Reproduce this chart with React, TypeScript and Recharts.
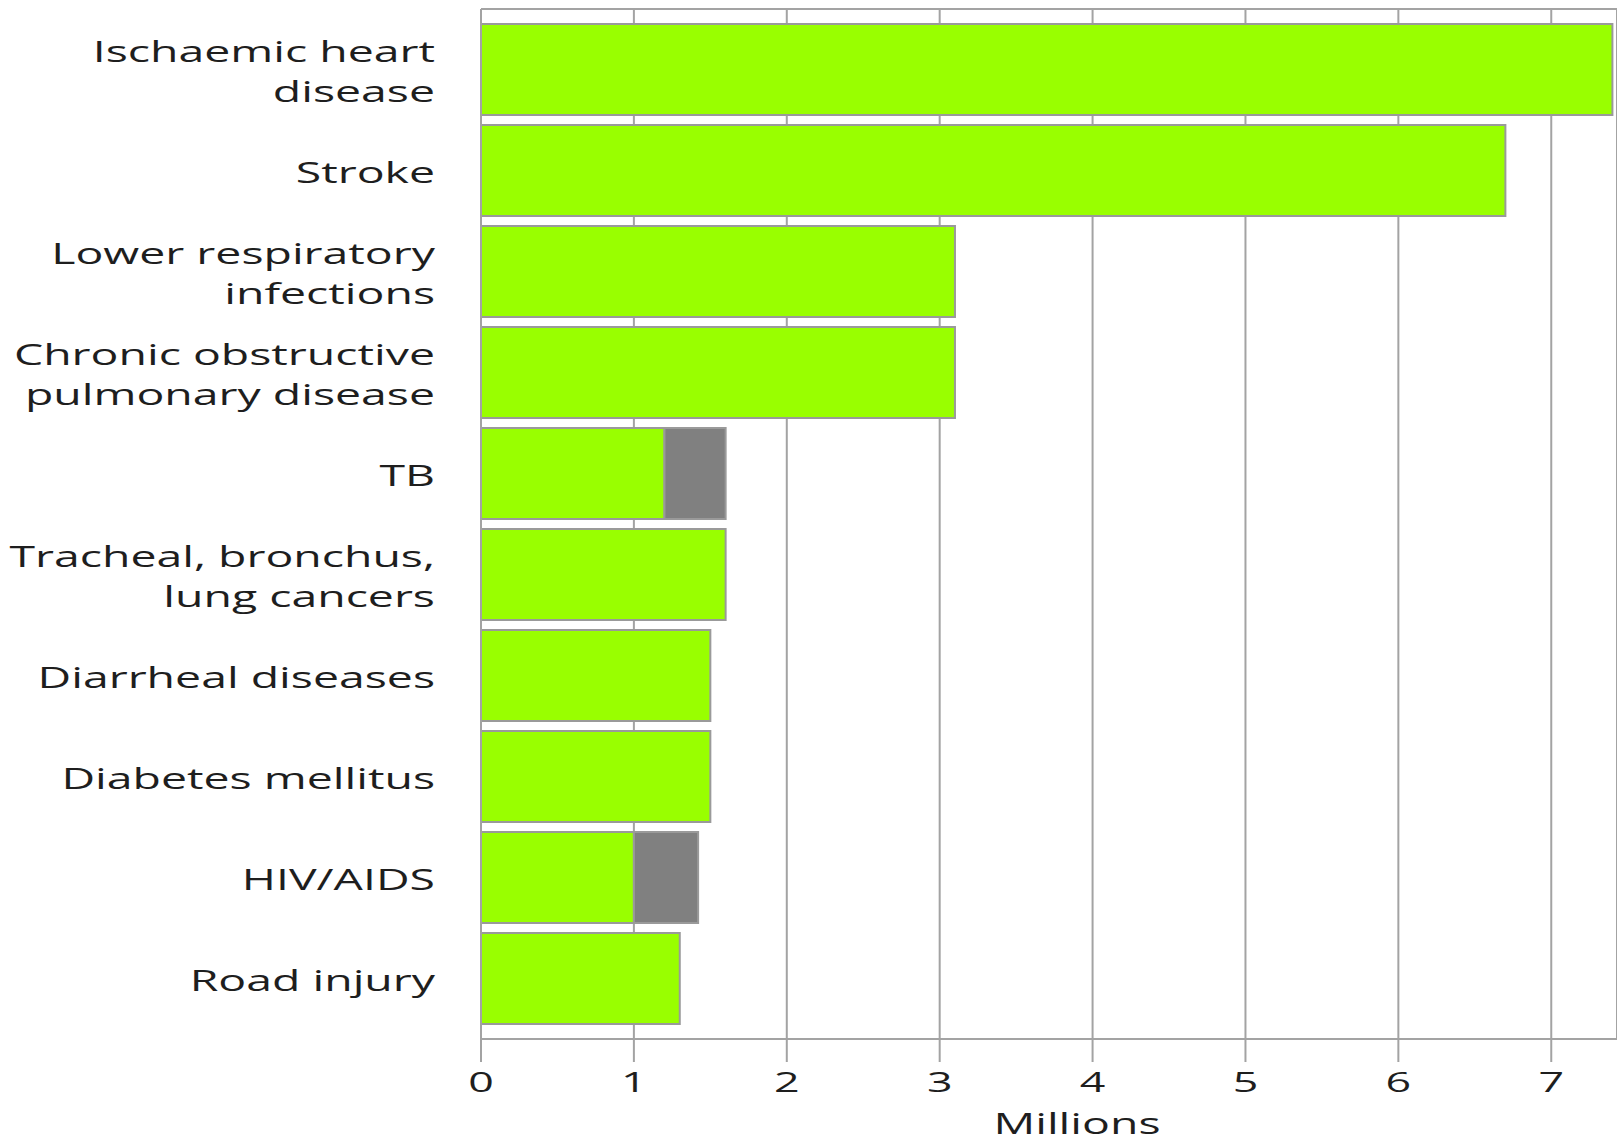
import React from 'react';
import { BarChart, Bar, XAxis, YAxis, CartesianGrid, Label } from 'recharts';

// causes of death, read top to bottom
const causes = [
  'Ischaemic heart\ndisease',
  'Stroke',
  'Lower respiratory\ninfections',
  'Chronic obstructive\npulmonary disease',
  'TB',
  'Tracheal, bronchus,\nlung cancers',
  'Diarrheal diseases',
  'Diabetes mellitus',
  'HIV/AIDS',
  'Road injury',
];
// millions of deaths (green part)
const deaths = [7.4, 6.7, 3.1, 3.1, 1.2, 1.6, 1.5, 1.5, 1.0, 1.3];
// extra grey part on TB and HIV/AIDS
const extra = [0, 0, 0, 0, 0.4, 0, 0, 0, 0.42, 0];
const xTicks = [0, 1, 2, 3, 4, 5, 6, 7];

const data = causes.map((name, i) => ({ name, deaths: deaths[i], extra: extra[i] }));

const FONT = '"Open Sans", sans-serif';
const GRID = '#a3a3a3';
const INK = '#1e1e1e';
// the lettering in the original is wide, so stretch it sideways
const STRETCH = 'scale(1.6,1)';

function CauseTick({ x, y, payload }: any): JSX.Element {
  const lines: string[] = String(payload.value).split('\n');
  const lh = 40;
  const first = -((lines.length - 1) * lh) / 2 + 1;
  return (
    <g transform={`translate(${x},${y}) ${STRETCH}`}>
      <text textAnchor="end" fill={INK} fontFamily={FONT} fontSize={29} dominantBaseline="central">
        {lines.map((l, i) => (
          <tspan key={i} x={0} y={first + i * lh}>
            {l}
          </tspan>
        ))}
      </text>
    </g>
  );
}

function ValueTick({ x, y, payload }: any): JSX.Element {
  return (
    <g transform={`translate(${x},${y}) ${STRETCH}`}>
      <text textAnchor="middle" dy="0.8em" fill={INK} fontFamily={FONT} fontSize={28}>
        {payload.value}
      </text>
    </g>
  );
}

function AxisTitle({ viewBox }: any): JSX.Element {
  const cx = viewBox.x + viewBox.width / 2 + 28;
  const by = viewBox.y + viewBox.height - 9;
  return (
    <g transform={`translate(${cx},${by}) ${STRETCH}`}>
      <text textAnchor="middle" fill={INK} fontFamily={FONT} fontSize={29}>
        Millions
      </text>
    </g>
  );
}

export default function App(): JSX.Element {
  return (
    <div style={{ position: 'absolute', left: 0, top: 0 }}>
      <BarChart
        width={1617}
        height={1143}
        data={data}
        layout="vertical"
        barCategoryGap={5}
        margin={{ top: 8, right: 0, bottom: 0, left: 0 }}
      >
        <CartesianGrid horizontal={false} stroke={GRID} strokeWidth={2} />
        <XAxis
          type="number"
          domain={[0, 7.43]}
          ticks={xTicks}
          allowDataOverflow
          height={104}
          tickSize={23}
          tickMargin={8}
          axisLine={{ stroke: GRID, strokeWidth: 2 }}
          tickLine={{ stroke: GRID, strokeWidth: 2 }}
          tick={<ValueTick />}
        >
          <Label content={<AxisTitle />} position="insideBottom" />
        </XAxis>
        <XAxis
          xAxisId="top"
          orientation="top"
          type="number"
          domain={[0, 7.43]}
          height={1}
          tick={false}
          tickLine={false}
          axisLine={{ stroke: GRID, strokeWidth: 2 }}
        />
        <YAxis
          type="category"
          dataKey="name"
          width={481}
          padding={{ top: 10, bottom: 10 }}
          tickSize={0}
          tickMargin={46}
          tickLine={false}
          axisLine={{ stroke: GRID, strokeWidth: 2 }}
          tick={<CauseTick />}
          interval={0}
        />
        <Bar dataKey="deaths" stackId="a" fill="#99ff00" stroke="#9a9a9a" strokeWidth={2} isAnimationActive={false} />
        <Bar dataKey="extra" stackId="a" fill="#808080" stroke="#9a9a9a" strokeWidth={2} isAnimationActive={false} />
      </BarChart>
    </div>
  );
}
